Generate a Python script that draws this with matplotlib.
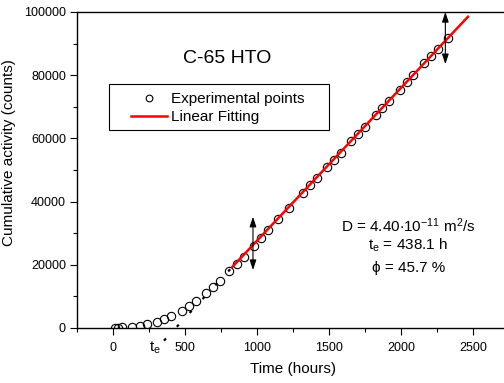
import matplotlib
matplotlib.use("Agg")
import matplotlib.pyplot as plt
from matplotlib.ticker import MultipleLocator
from matplotlib.patches import Rectangle

plt.rcParams['font.family'] = ['Liberation Sans', 'DejaVu Sans']
plt.rcParams['mathtext.fontset'] = 'custom'
plt.rcParams['mathtext.rm'] = 'Liberation Sans'
plt.rcParams['mathtext.it'] = 'Liberation Sans:italic'
plt.rcParams['mathtext.default'] = 'regular'

# Experimental points (hours, counts)
time_h = [14, 38, 65, 135, 186, 236, 306, 356, 405, 477, 526, 577, 644, 691, 740,
          809, 860, 909, 981, 1028, 1074, 1147, 1221, 1316, 1365, 1414, 1486, 1533,
          1581, 1651, 1700, 1751, 1823, 1870, 1919, 1991, 2040, 2086, 2158, 2207,
          2256, 2328]
activity = [0, 100, 200, 300, 600, 1300, 2000, 2800, 3800, 5500, 7000, 8500, 11000,
            13000, 15000, 18100, 20300, 22600, 26000, 28400, 30900, 34400, 37900,
            42600, 45100, 47500, 50800, 53100, 55500, 59100, 61400, 63700, 67300,
            69500, 71900, 75300, 77700, 80200, 83800, 86100, 88300, 91700]

# Linear fit segment
fit_x = [830, 2465]
fit_y = [19400, 98500]
# Dotted extrapolation of the fit down to the time axis
ext_x = [354, 830]
ext_y = [-4000, 19400]

# Double-headed arrows
arrow1_x, arrow1_y = 972, [18350, 35200]
arrow2_x, arrow2_y = 2308, [83500, 100000]

fig = plt.figure(figsize=(5.04, 3.83), dpi=100)
ax = fig.add_axes([77/504, 55/383, 432/504, 316/383])

ax.plot(ext_x, ext_y, color='black', lw=1.6, ls=(0, (1.3, 7.2)), clip_on=False, zorder=2)
ax.plot(time_h, activity, ls='none', marker='o', ms=6, mfc='none', mec='black',
        mew=0.8, label='Experimental points', zorder=3)
ax.plot(fit_x, fit_y, color='red', lw=1.8, label='Linear Fitting', zorder=4)

for ax_x, ay in [(arrow1_x, arrow1_y), (arrow2_x, arrow2_y)]:
    ax.annotate('', xy=(ax_x, ay[1]), xytext=(ax_x, ay[0]),
                arrowprops=dict(arrowstyle='<|-|>,head_length=0.6,head_width=0.2',
                                color='black', lw=0.8, shrinkA=0, shrinkB=0), zorder=5)

ax.set_xlim(-250, 2750)
ax.set_ylim(0, 100000)
ax.xaxis.set_major_locator(MultipleLocator(500))
ax.xaxis.set_minor_locator(MultipleLocator(250))
ax.yaxis.set_major_locator(MultipleLocator(20000))
ax.yaxis.set_minor_locator(MultipleLocator(10000))
ax.tick_params(which='both', direction='out', labelsize=9, width=0.8)
ax.tick_params(which='major', length=5)
ax.tick_params(which='minor', length=3)
ax.tick_params(axis='x', which='major', pad=5)
ax.tick_params(axis='y', which='major', pad=3)
for s in ax.spines.values():
    s.set_linewidth(1.0)

ax.set_xlabel('Time (hours)', fontsize=11)
ax.set_ylabel('Cumulative activity (counts)', fontsize=11)
ax.xaxis.set_label_coords(0.5, -0.108)
ax.yaxis.set_label_coords(-0.141, 0.555)

ax.text(790, 85400, 'C-65 HTO', fontsize=14, ha='center', va='center')
ax.text(2050, 32300, r'D = 4.40$\cdot$10$^{-11}$ m$^2$/s', fontsize=11, ha='center', va='center')
ax.text(2050, 26300, r't$_e$ = 438.1 h', fontsize=11, ha='center', va='center')
ax.text(2050, 19000, '\u03d5 = 45.7 %', fontsize=11, ha='center', va='center')
ax.text(290, -6300, r't$_e$', fontsize=11, ha='center', va='center', clip_on=False)

leg = ax.legend(loc='upper left', bbox_to_anchor=((131-77)/432, (328-92)/316),
                borderaxespad=0, fontsize=11, frameon=False, handlelength=2.35,
                labelspacing=0.28, borderpad=0, handletextpad=0.26, markerscale=0.8)
ax.add_patch(Rectangle(((109-77)/432, (328-130)/316), 220/432, 46/316,
                       transform=ax.transAxes, fill=False, edgecolor='black',
                       lw=0.8, zorder=6))

fig.savefig('out.png', dpi=100)
